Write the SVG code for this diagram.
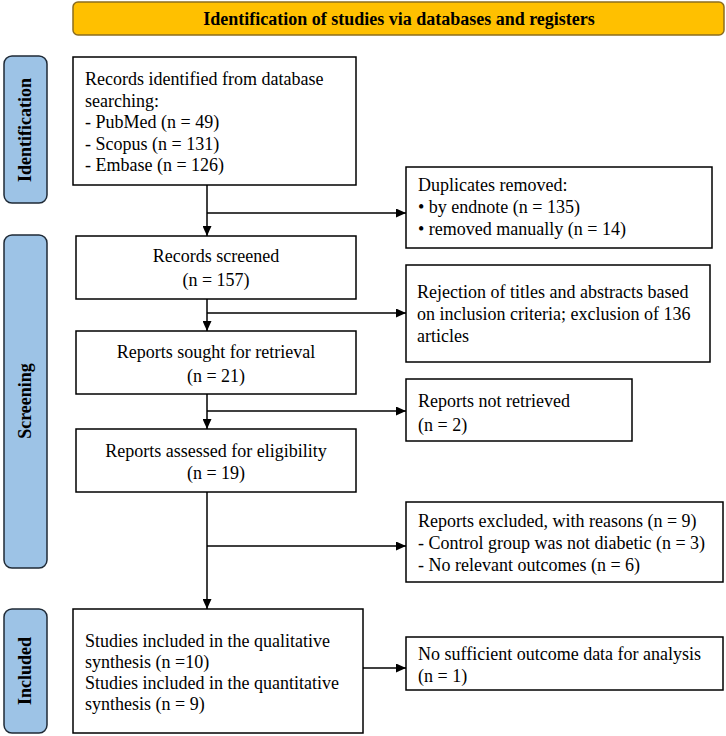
<svg xmlns="http://www.w3.org/2000/svg" width="726" height="736" viewBox="0 0 726 736">
<defs>
<style>
.box{fill:#fff;stroke:#000;stroke-width:1.5}
.side{fill:#9DC3E6;stroke:#1F2A36;stroke-width:1.5}
.hdr{fill:#FFC000;stroke:#8C6D1F;stroke-width:1.5}
text{font-family:"Liberation Serif","Times New Roman",serif;font-size:18px;fill:#000}
.b{font-weight:bold}
.c{text-anchor:middle}
.conn{fill:none;stroke:#000;stroke-width:1.5}
</style>
<marker id="ah" markerUnits="userSpaceOnUse" markerWidth="10" markerHeight="9" refX="10" refY="4.5" orient="auto">
<path d="M0,0 L10,4.5 L0,9 z" fill="#000"/>
</marker>
</defs>
<rect width="726" height="736" fill="#fff"/>

<g id="header">
<rect class="hdr" x="73" y="2" width="651" height="33" rx="5"/>
<text class="b c" x="399" y="25">Identification of studies via databases and registers</text>
</g>

<g id="side-identification">
<rect class="side" x="4" y="56" width="43" height="147" rx="8"/>
<text class="b c" transform="translate(31,130) rotate(-90)">Identification</text>
</g>
<g id="side-screening">
<rect class="side" x="4" y="235" width="43" height="333" rx="8"/>
<text class="b c" transform="translate(31,401) rotate(-90)">Screening</text>
</g>
<g id="side-included">
<rect class="side" x="4" y="609" width="43" height="124" rx="8"/>
<text class="b c" transform="translate(31,671) rotate(-90)">Included</text>
</g>

<g id="records-identified">
<rect class="box" x="73" y="57" width="283" height="128"/>
<text x="85" y="85">Records identified from database</text>
<text x="85" y="106.5">searching:</text>
<text x="85" y="128">- PubMed (n = 49)</text>
<text x="85" y="149.5">- Scopus (n = 131)</text>
<text x="85" y="171">- Embase (n = 126)</text>
</g>

<g id="duplicates">
<rect class="box" x="406" y="167" width="306" height="81"/>
<text x="418" y="191">Duplicates removed:</text>
<text x="418" y="213">• by endnote (n = 135)</text>
<text x="418" y="235">• removed manually (n = 14)</text>
</g>

<g id="records-screened">
<rect class="box" x="76" y="236" width="280" height="63"/>
<text class="c" x="216" y="262">Records screened</text>
<text class="c" x="216" y="286">(n = 157)</text>
</g>

<g id="rejection">
<rect class="box" x="406" y="265" width="304" height="97"/>
<text x="417" y="298">Rejection of titles and abstracts based</text>
<text x="417" y="320">on inclusion criteria; exclusion of 136</text>
<text x="417" y="342">articles</text>
</g>

<g id="reports-sought">
<rect class="box" x="76" y="331" width="280" height="63"/>
<text class="c" x="216" y="358">Reports sought for retrieval</text>
<text class="c" x="216" y="382">(n = 21)</text>
</g>

<g id="not-retrieved">
<rect class="box" x="406" y="379" width="226" height="62"/>
<text x="418" y="407">Reports not retrieved</text>
<text x="418" y="431">(n = 2)</text>
</g>

<g id="reports-assessed">
<rect class="box" x="76" y="429" width="280" height="63"/>
<text class="c" x="216" y="457">Reports assessed for eligibility</text>
<text class="c" x="216" y="479">(n = 19)</text>
</g>

<g id="reports-excluded">
<rect class="box" x="406" y="502" width="317" height="80"/>
<text x="418" y="527">Reports excluded, with reasons (n = 9)</text>
<text x="418" y="549">- Control group was not diabetic (n = 3)</text>
<text x="418" y="571">- No relevant outcomes (n = 6)</text>
</g>

<g id="studies-included">
<rect class="box" x="73" y="609" width="290" height="124"/>
<text x="85" y="647">Studies included in the qualitative</text>
<text x="85" y="668">synthesis (n =10)</text>
<text x="85" y="689">Studies included in the quantitative</text>
<text x="85" y="710">synthesis (n = 9)</text>
</g>

<g id="no-sufficient">
<rect class="box" x="406" y="637" width="317" height="53"/>
<text x="418" y="660">No sufficient outcome data for analysis</text>
<text x="418" y="682">(n = 1)</text>
</g>

<g id="connectors">
<path class="conn" d="M207,185 L207,236" marker-end="url(#ah)"/>
<path class="conn" d="M207,213 L406,213" marker-end="url(#ah)"/>
<path class="conn" d="M207,299 L207,331" marker-end="url(#ah)"/>
<path class="conn" d="M207,313 L406,313" marker-end="url(#ah)"/>
<path class="conn" d="M207,394 L207,429" marker-end="url(#ah)"/>
<path class="conn" d="M207,411 L406,411" marker-end="url(#ah)"/>
<path class="conn" d="M207,492 L207,609" marker-end="url(#ah)"/>
<path class="conn" d="M207,546 L406,546" marker-end="url(#ah)"/>
<path class="conn" d="M363,668 L406,668" marker-end="url(#ah)"/>
</g>
</svg>
